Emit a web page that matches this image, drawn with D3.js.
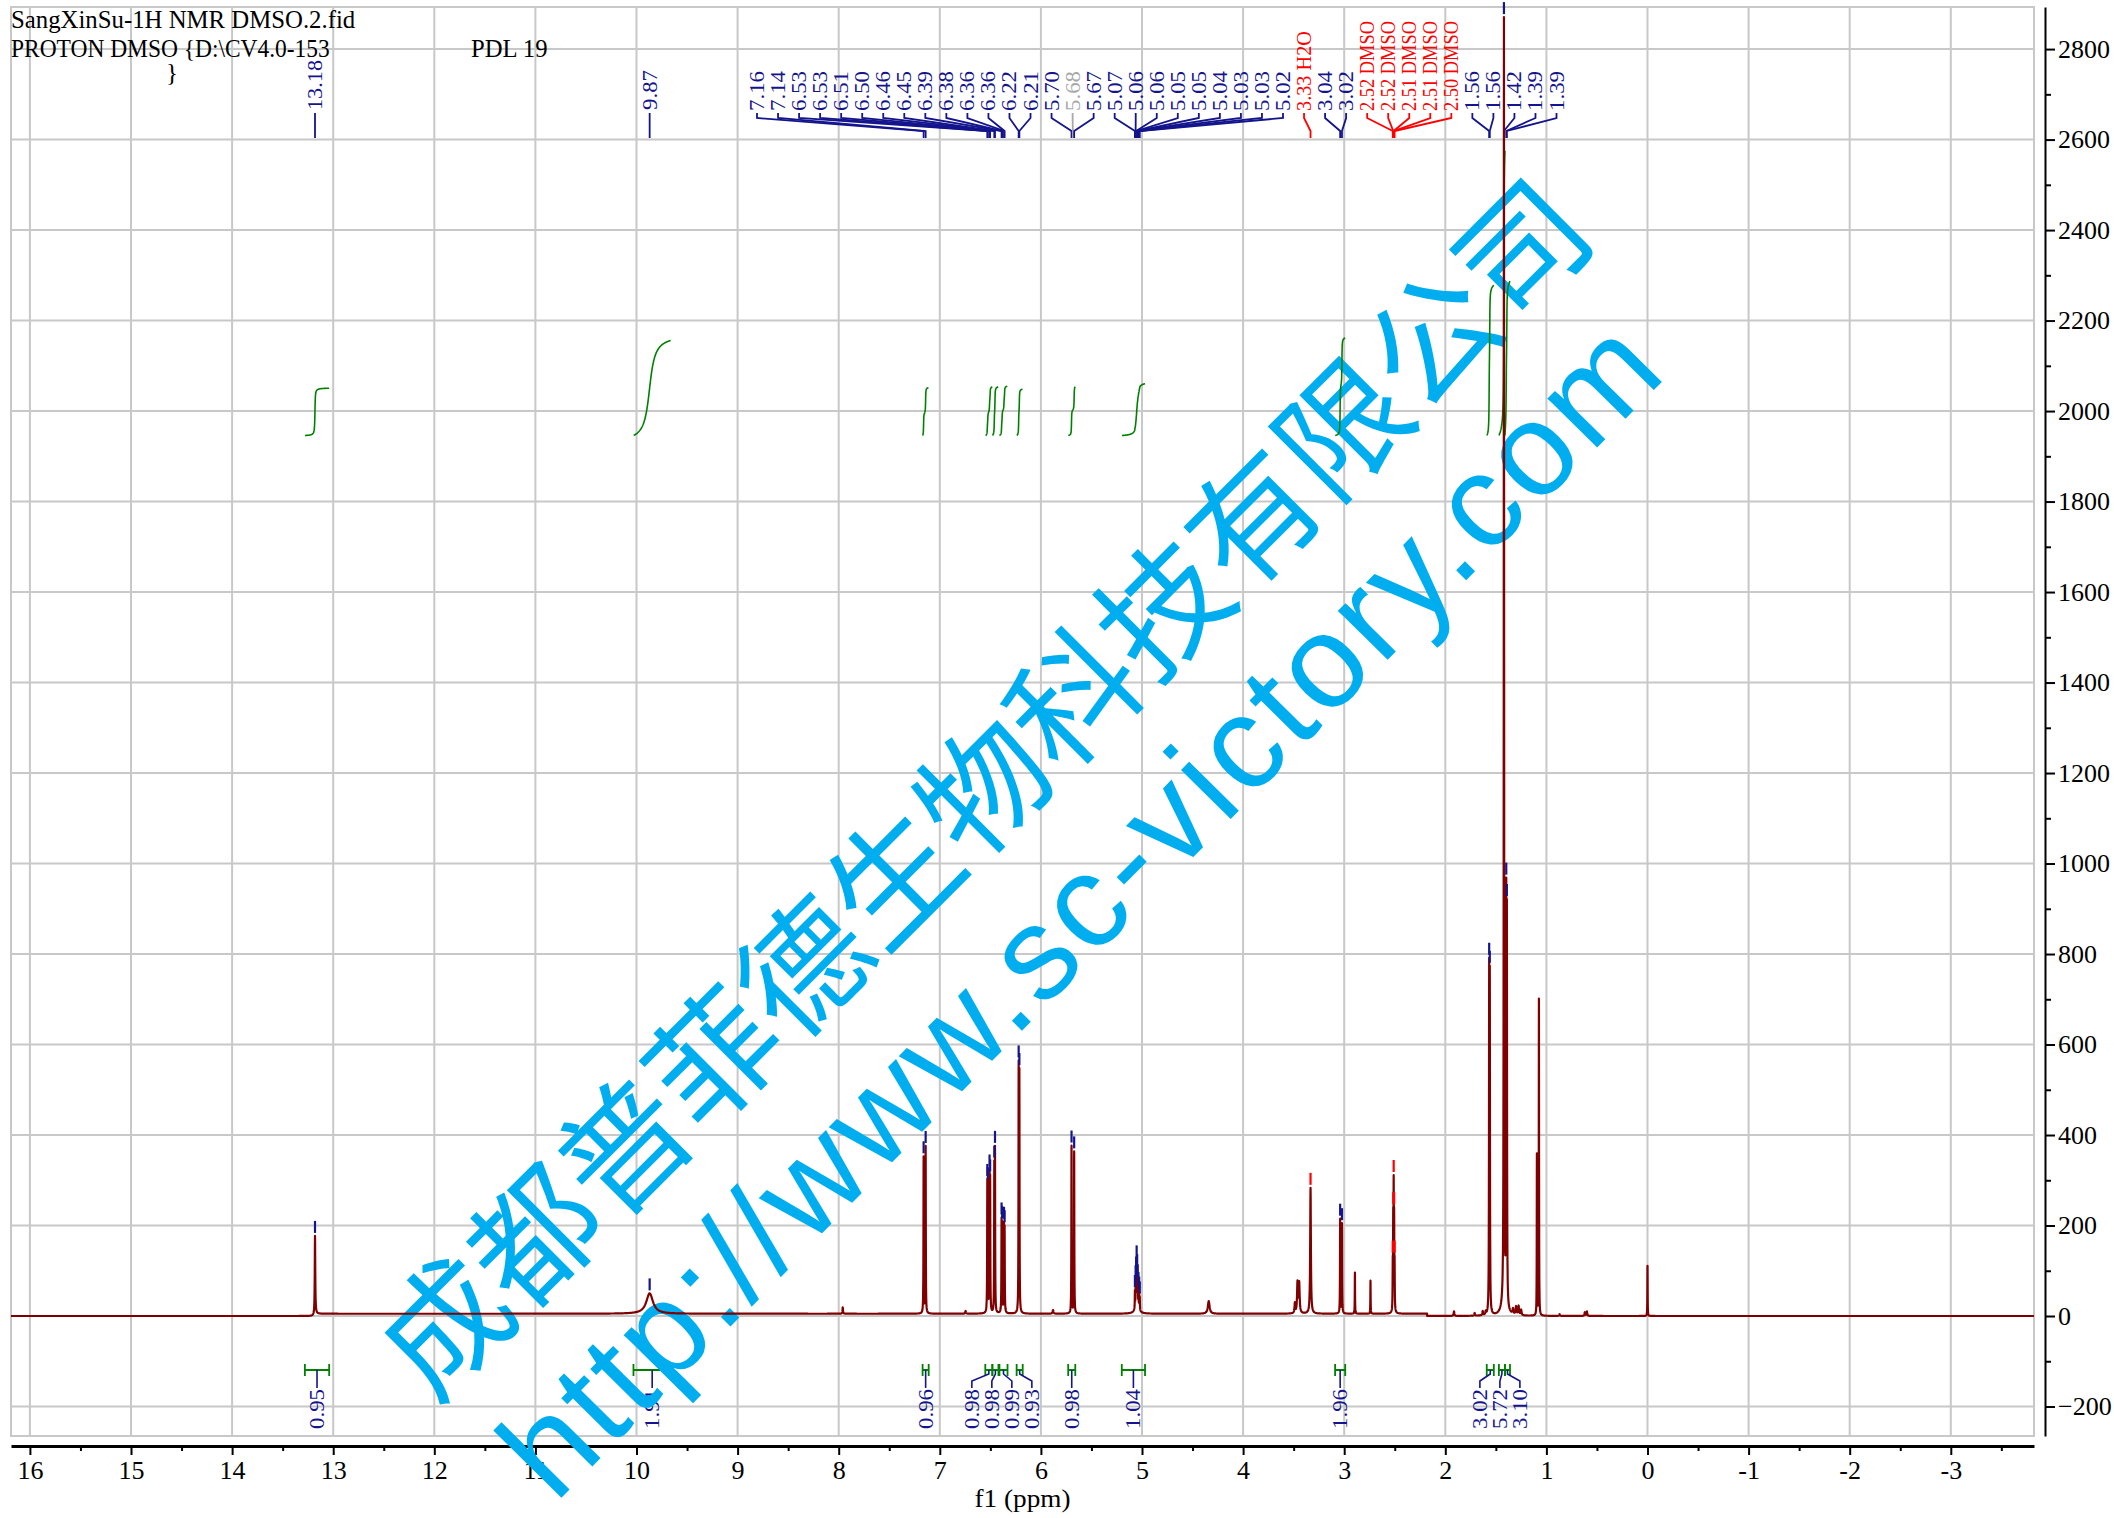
<!DOCTYPE html>
<html><head><meta charset="utf-8">
<script src="https://cdn.jsdelivr.net/npm/d3@7"></script>
<style>body{margin:0;background:#fff}svg{display:block}</style>
</head><body>
<svg id="c" width="2114" height="1518"></svg>
<script>
// ---------------- data ----------------
const peakPpm    = [13.180, 9.870, 7.960, 7.160, 7.140, 6.745, 6.530, 6.525, 6.508, 6.502, 6.461, 6.454, 6.389, 6.383, 6.365, 6.359, 6.220, 6.213, 5.880, 5.697, 5.671, 5.070, 5.063, 5.058, 5.053, 5.048, 5.042, 5.035, 5.028, 5.022, 5.050, 4.340, 3.488, 3.462, 3.445, 3.333, 3.040, 3.022, 2.894, 2.740, 2.5196, 2.5151, 2.5106, 2.5061, 2.5016, 1.914, 1.710, 1.630, 1.600, 1.566, 1.560, 1.420, 1.420, 1.397, 1.391, 1.330, 1.300, 1.275, 1.250, 1.094, 1.074, 0.870, 0.620, 0.600, 0.000];
const peakHeight = [172, 45, 14, 345, 368, 6, 265, 255, 290, 280, 315, 350, 195, 185, 185, 178, 528, 510, 8, 370, 357, 38, 50, 62, 85, 66, 50, 40, 35, 28, 20, 28, 22, 68, 66, 278, 208, 198, 91, 73, 90, 180, 250, 180, 90, 10, 6, 9, 7, 720, 700, 2830, 30, 850, 810, 12, 18, 20, 12, 355, 699, 4, 8, 10, 111];
const peakWidth  = [0.003, 0.04, 0.003, 0.0018, 0.0018, 0.004, 0.0018, 0.0018, 0.0018, 0.0018, 0.0018, 0.0018, 0.0018, 0.0018, 0.0018, 0.0018, 0.0018, 0.0018, 0.005, 0.0018, 0.0018, 0.0015, 0.0015, 0.0015, 0.0015, 0.0015, 0.0015, 0.0015, 0.0015, 0.0015, 0.02, 0.01, 0.004, 0.005, 0.005, 0.004, 0.0018, 0.0018, 0.0015, 0.0015, 0.0018, 0.0018, 0.0018, 0.0018, 0.0018, 0.004, 0.004, 0.004, 0.004, 0.002, 0.002, 0.002, 0.025, 0.002, 0.002, 0.005, 0.005, 0.005, 0.005, 0.0015, 0.0015, 0.004, 0.004, 0.004, 0.0015];

const baseStart = [13.18];
const baseEnd   = [2.18];
const baseLevel = [5];

const singleLabelText = ["13.18", "9.87"];
const singleLabelPpm  = [13.18, 9.87];

const clusterLabelText = ["7.16","7.14","6.53","6.53","6.51","6.50","6.46","6.45","6.39","6.38","6.36","6.36","6.22","6.21","5.70","5.68","5.67","5.07","5.06","5.06","5.05","5.05","5.04","5.03","5.03","5.02","3.33 H2O","3.04","3.02","2.52 DMSO","2.52 DMSO","2.51 DMSO","2.51 DMSO","2.50 DMSO","1.56","1.56","1.42","1.39","1.39"];
const clusterLabelPpm  = [7.160,7.140,6.530,6.525,6.508,6.502,6.461,6.454,6.389,6.383,6.365,6.359,6.220,6.213,5.697,5.684,5.671,5.070,5.063,5.058,5.053,5.048,5.042,5.035,5.028,5.022,3.333,3.040,3.022,2.5196,2.5151,2.5106,2.5061,2.5016,1.566,1.560,1.420,1.397,1.391];
const clusterLabelKind = ["b","b","b","b","b","b","b","b","b","b","b","b","b","b","b","g","b","b","b","b","b","b","b","b","b","b","r","b","b","r","r","r","r","r","b","b","b","b","b"];

const intFrom  = [13.28, 10.03, 7.17, 6.55, 6.48, 6.41, 6.24, 5.73, 5.20, 3.09, 1.59, 1.47, 1.41];
const intTo    = [13.04,  9.66, 7.11, 6.48, 6.42, 6.33, 6.18, 5.66, 4.97, 2.99, 1.52, 1.41, 1.36];
const intValue = [0.95, 1.91, 0.96, 0.98, 0.98, 0.99, 0.93, 0.98, 1.04, 1.96, 3.02, 5.72, 3.10];
const intText  = ["0.95","1.91","0.96","0.98","0.98","0.99","0.93","0.98","1.04","1.96","3.02","5.72","3.10"];

const xTickValues = [16,15,14,13,12,11,10,9,8,7,6,5,4,3,2,1,0,-1,-2,-3];
const xTickLabels = ["16","15","14","13","12","11","10","9","8","7","6","5","4","3","2","1","0","-1","-2","-3"];
const xMinorValues = [15.5,14.5,13.5,12.5,11.5,10.5,9.5,8.5,7.5,6.5,5.5,4.5,3.5,2.5,1.5,0.5,-0.5,-1.5,-2.5,-3.5];
const yTickValues = [-200,0,200,400,600,800,1000,1200,1400,1600,1800,2000,2200,2400,2600,2800];
const yTickLabels = ["\u2212200","0","200","400","600","800","1000","1200","1400","1600","1800","2000","2200","2400","2600","2800"];
const yMinorValues = [-100,100,300,500,700,900,1100,1300,1500,1700,1900,2100,2300,2500,2700];

const headerLines = ["SangXinSu-1H NMR DMSO.2.fid", "PROTON DMSO {D:\\CV4.0-153", "PDL 19", "}"];
const axisTitle = "f1 (ppm)";
const watermarkCN = "成都普菲德生物科技有限公司";
const watermarkURL = "http://www.sc-victory.com";
const integralBase = 1946, integralUnit = 110;

// ---------------- layout ----------------
const L = 11, R = 2034, T = 7, B = 1436;
const labelStartX = 757, labelStep = 21.04;
const BLUE = "#14148c", RED = "#ff0000", GRAY = "#a8a8a8", GREEN = "#008000", SPEC = "#7f0000", WM = "#00aeef";
const kindColor = k => k === "r" ? RED : (k === "g" ? GRAY : BLUE);

const svg = d3.select("#c");
const x = d3.scaleLinear().domain([16.187, -3.823]).range([L, R]);
const y = d3.scaleLinear().domain([-265.2, 2893]).range([B, T]);

function baseline(p) {
  for (let i = 0; i < baseStart.length; i++) if (p <= baseStart[i] && p >= baseEnd[i]) return baseLevel[i];
  return 0;
}
function peaksAt(p) {
  let s = 0;
  for (let i = 0; i < peakPpm.length; i++) { const u = (p - peakPpm[i]) / peakWidth[i]; s += peakHeight[i] / (1 + u * u); }
  return s;
}
const spec = p => baseline(p) + peaksAt(p);

let grid = d3.range(16.187, -3.83, -0.003);
const offs = [-12,-8,-5,-3,-2,-1.5,-1,-0.6,-0.3,0,0.3,0.6,1,1.5,2,3,5,8,12];
peakPpm.forEach((c, i) => offs.forEach(k => grid.push(c + k * peakWidth[i])));
baseStart.forEach((s, i) => { grid.push(s + 1e-4, s - 1e-4, baseEnd[i] + 1e-4, baseEnd[i] - 1e-4); });
grid = Array.from(new Set(grid.map(v => +v.toFixed(6)))).sort((a, b) => b - a).filter(p => p <= 16.187 && p >= -3.823);
const specData = grid.map(p => [p, spec(p)]);

// ---------------- grid ----------------
const gGrid = svg.append("g").attr("stroke", "#c8c8c8").attr("stroke-width", 2);
gGrid.append("g").selectAll("line").data(xTickValues).join("line")
  .attr("x1", d => x(d)).attr("x2", d => x(d)).attr("y1", T).attr("y2", B);
gGrid.append("g").selectAll("line").data(yTickValues).join("line")
  .attr("x1", L).attr("x2", R).attr("y1", d => y(d)).attr("y2", d => y(d));
gGrid.append("rect").attr("x", L).attr("y", T).attr("width", R - L).attr("height", B - T).attr("fill", "none");

// ---------------- axes ----------------
const gx = svg.append("g").attr("transform", "translate(0,1446)")
  .call(d3.axisBottom(x).tickValues(xTickValues).tickSize(9).tickSizeOuter(0).tickPadding(6).tickFormat((d, i) => xTickLabels[i]));
gx.attr("font-family", "Liberation Serif").attr("font-size", 26);
gx.select(".domain").attr("stroke-width", 3);
gx.selectAll(".tick line").attr("stroke-width", 2);
const gxm = svg.append("g").attr("transform", "translate(0,1446)")
  .call(d3.axisBottom(x).tickValues(xMinorValues).tickSize(5).tickSizeOuter(0).tickFormat(""));
gxm.select(".domain").remove();
gxm.selectAll(".tick line").attr("stroke-width", 2);

const gy = svg.append("g").attr("transform", "translate(2045,0)")
  .call(d3.axisRight(y).tickValues(yTickValues).tickSize(10).tickSizeOuter(0).tickPadding(3).tickFormat((d, i) => yTickLabels[i]));
gy.attr("font-family", "Liberation Serif").attr("font-size", 26);
gy.select(".domain").attr("stroke-width", 2);
gy.selectAll(".tick line").attr("stroke-width", 2);
const gym = svg.append("g").attr("transform", "translate(2045,0)")
  .call(d3.axisRight(y).tickValues(yMinorValues).tickSize(6).tickSizeOuter(0).tickFormat(""));
gym.select(".domain").remove();
gym.selectAll(".tick line").attr("stroke-width", 2);

svg.append("text").attr("x", (L + R) / 2).attr("y", 1507).attr("text-anchor", "middle")
  .attr("font-family", "Liberation Serif").attr("font-size", 25).attr("textLength", 96).attr("lengthAdjust", "spacingAndGlyphs").text(axisTitle);

// ---------------- header ----------------
const hdr = svg.append("g").attr("font-family", "Liberation Serif").attr("font-size", 25).attr("fill", "#000");
const hdrPos = [[11, 28], [11, 57], [471, 57], [166, 81]];
headerLines.forEach((t, i) => {
  const tx = hdr.append("text").attr("x", hdrPos[i][0]).attr("y", hdrPos[i][1]).text(t);
  if (t.length > 1) tx.attr("textLength", t.length * 12.75).attr("lengthAdjust", "spacingAndGlyphs");
});

// ---------------- peak labels (top) ----------------
const labG = svg.append("g").attr("font-family", "Liberation Serif").attr("font-size", 21);
function vlabel(g, t, xl, yStart, col) {
  g.append("text").attr("transform", `translate(${xl},${yStart}) rotate(-90)`)
    .attr("dominant-baseline", "central").attr("textLength", t.length * 10).attr("lengthAdjust", "spacingAndGlyphs")
    .attr("fill", col).text(t);
}
singleLabelText.forEach((t, i) => {
  const xp = x(singleLabelPpm[i]);
  labG.append("line").attr("x1", xp).attr("x2", xp).attr("y1", 113).attr("y2", 138).attr("stroke", BLUE).attr("stroke-width", 1.8);
  vlabel(labG, t, xp, 110, BLUE);
});
clusterLabelText.forEach((t, i) => {
  const xl = labelStartX + i * labelStep, xp = x(clusterLabelPpm[i]), col = kindColor(clusterLabelKind[i]);
  labG.append("path").attr("d", `M${xl},113V118L${xp},131V138`).attr("fill", "none").attr("stroke", col).attr("stroke-width", 1.8);
  vlabel(labG, t, xl, 111, col);
});

// ---------------- integrals (bottom brackets + labels) ----------------
const intG = svg.append("g").attr("font-family", "Liberation Serif").attr("font-size", 21);
const centers = intFrom.map((f, i) => x((f + intTo[i]) / 2));
const groups = [];
centers.forEach((c, i) => {
  if (groups.length && c - centers[groups[groups.length - 1].slice(-1)[0]] < 30) groups[groups.length - 1].push(i);
  else groups.push([i]);
});
groups.forEach(gr => {
  const m = d3.mean(gr, i => centers[i]);
  gr.forEach((i, j) => {
    const x1 = x(intFrom[i]), x2 = x(intTo[i]), c = centers[i];
    intG.append("path").attr("d", `M${x1},1364V1376M${x1},1370H${x2}M${x2},1364V1376`).attr("fill", "none").attr("stroke", GREEN).attr("stroke-width", 1.8);
    let xl = c;
    if (gr.length > 1) {
      xl = m + (j - (gr.length - 1) / 2) * 20;
      intG.append("path").attr("d", `M${c},1370V1374L${xl},1381V1388`).attr("fill", "none").attr("stroke", BLUE).attr("stroke-width", 1.6);
    } else {
      intG.append("line").attr("x1", c).attr("x2", c).attr("y1", 1370).attr("y2", 1388).attr("stroke", BLUE).attr("stroke-width", 1.6);
    }
    vlabel(intG, intText[i], xl, 1429, BLUE);
  });
});

// ---------------- watermark ----------------
const wm = svg.append("g").attr("fill", WM);
wm.append("text").attr("transform", "translate(978,782) rotate(-45)").attr("text-anchor", "middle")
  .attr("dominant-baseline", "central").attr("font-family", "Noto Sans CJK SC").attr("font-size", 127).text(watermarkCN);
wm.append("text").attr("transform", "translate(1079,908) rotate(-45.4)").attr("text-anchor", "middle")
  .attr("dominant-baseline", "central").attr("font-family", "Liberation Sans").attr("font-size", 132)
  .attr("textLength", 1585).attr("lengthAdjust", "spacing").text(watermarkURL);

// ---------------- integral curves (top) ----------------
const curveG = svg.append("g").attr("fill", "none").attr("stroke", GREEN).attr("stroke-width", 1.6);
intFrom.forEach((f, i) => {
  const pts = grid.filter(p => p <= f && p >= intTo[i]);
  let cum = 0; const cs = [];
  pts.forEach((p, k) => { const dp = k ? pts[k - 1] - p : 0; cum += peaksAt(p) * dp; cs.push(cum); });
  const tot = cum || 1;
  const line = pts.map((p, k) => [p, integralBase + cs[k] / tot * intValue[i] * integralUnit]);
  curveG.append("path").attr("d", d3.line().x(d => x(d[0])).y(d => y(d[1]))(line));
});

// ---------------- spectrum ----------------
svg.append("path").attr("d", d3.line().x(d => x(d[0])).y(d => y(d[1]))(specData))
  .attr("fill", "none").attr("stroke", SPEC).attr("stroke-width", 2.2).attr("stroke-linejoin", "round");

// ---------------- peak markers ----------------
const mk = svg.append("g").attr("stroke-width", 2.2);
const markerPpm = singleLabelPpm.concat(clusterLabelPpm.filter((p, i) => clusterLabelKind[i] !== "g"));
const markerKind = singleLabelPpm.map(() => "b").concat(clusterLabelKind.filter(k => k !== "g"));
markerPpm.forEach((p, i) => {
  const yy = y(spec(p));
  mk.append("line").attr("x1", x(p)).attr("x2", x(p)).attr("y1", yy - 3).attr("y2", yy - 15).attr("stroke", kindColor(markerKind[i]));
});
</script>
</body></html>
